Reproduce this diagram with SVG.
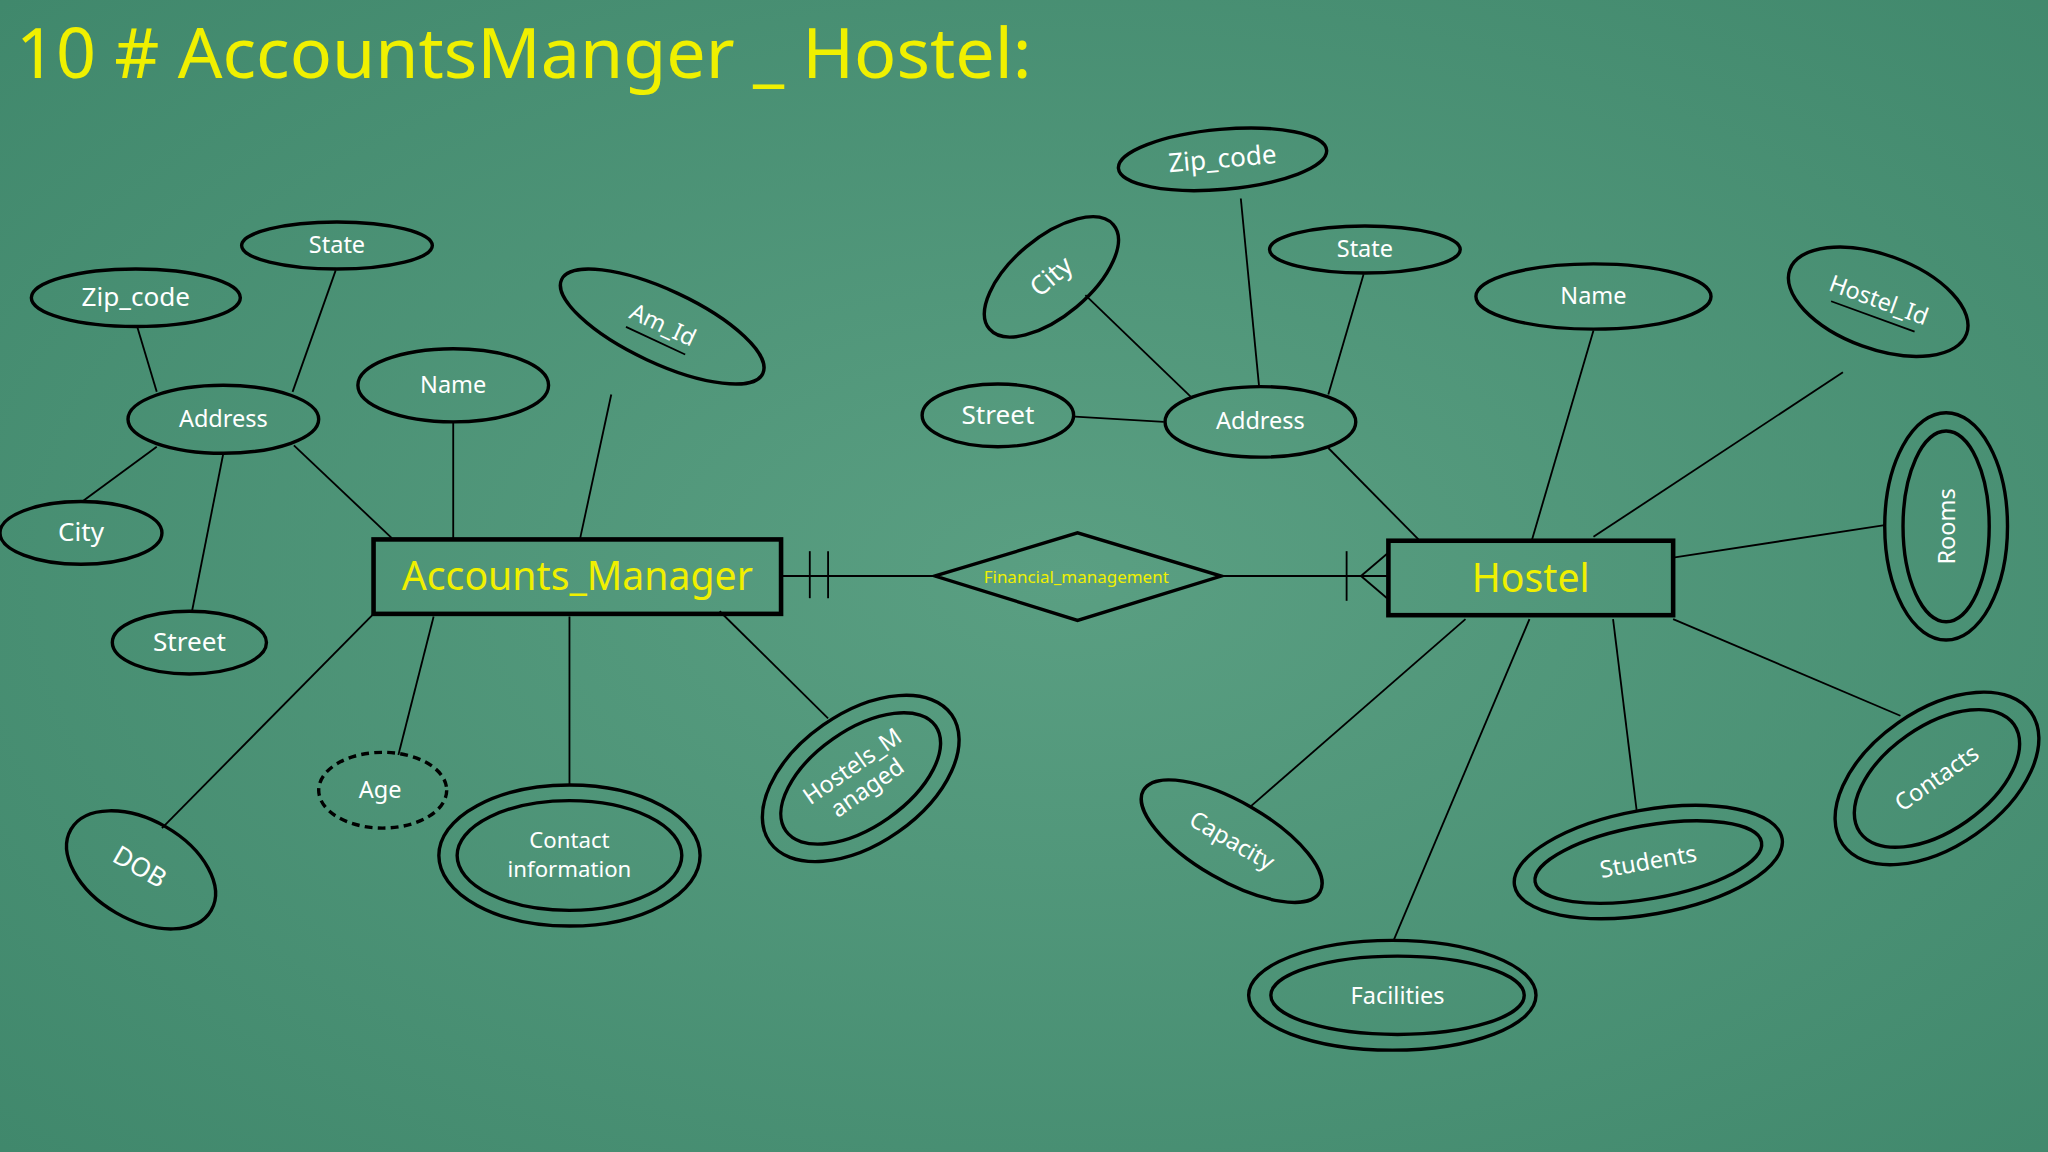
<svg xmlns="http://www.w3.org/2000/svg" width="2048" height="1152" viewBox="0 0 2048 1152">
<defs>
<radialGradient id="bg" cx="0.52" cy="0.5" r="0.75">
<stop offset="0" stop-color="#5a9f82"/>
<stop offset="1" stop-color="#3f876b"/>
</radialGradient>
<style>
.e{fill:none;stroke:#000;stroke-width:2.6}
.l{stroke:#000;stroke-width:1.4;fill:none}
.t{font-family:"Noto Sans","DejaVu Sans",sans-serif;fill:#fff;font-size:18px;text-anchor:middle;dominant-baseline:middle}
.y{fill:#f0f000}
.big{font-size:30px}
.sm{font-size:13px}
.md{font-size:20px}
.r{fill:none;stroke:#000;stroke-width:3.5}
</style>
</defs>
<rect width="2048" height="1152" fill="url(#bg)"/>
<text x="16" y="78" style="font-family:'Noto Sans','DejaVu Sans',sans-serif;font-size:70px;fill:#f0f000">10 # AccountsManger _ Hostel:</text>
<g transform="scale(1.30612)">
<g id="connectors">
<line class="l" x1="105" y1="250" x2="120" y2="300"/>
<line class="l" x1="257" y1="207" x2="224" y2="300"/>
<line class="l" x1="120" y1="342" x2="63" y2="384"/>
<line class="l" x1="171" y1="347" x2="147" y2="468"/>
<line class="l" x1="225" y1="341" x2="300" y2="412"/>
<line class="l" x1="347" y1="323" x2="347" y2="413"/>
<line class="l" x1="468" y1="302" x2="444" y2="413"/>
<line class="l" x1="286" y1="470" x2="124" y2="634"/>
<line class="l" x1="332" y1="472" x2="305" y2="578"/>
<line class="l" x1="436" y1="472" x2="436" y2="601"/>
<line class="l" x1="551" y1="468" x2="634" y2="550"/>
<line class="l" x1="598" y1="441" x2="716" y2="441"/>
<line class="l" x1="935" y1="441" x2="1062" y2="441"/>
<line class="l" x1="620" y1="422" x2="620" y2="458"/>
<line class="l" x1="634" y1="422" x2="634" y2="458"/>
<line class="l" x1="1031" y1="422" x2="1031" y2="460"/>
<line class="l" x1="1042" y1="441" x2="1062" y2="424"/>
<line class="l" x1="1042" y1="441" x2="1062" y2="458"/>
<line class="l" x1="950" y1="152" x2="964" y2="296"/>
<line class="l" x1="1044" y1="210" x2="1017" y2="302"/>
<line class="l" x1="831" y1="226" x2="912" y2="304"/>
<line class="l" x1="823" y1="319" x2="891" y2="323"/>
<line class="l" x1="1017" y1="343" x2="1086" y2="413"/>
<line class="l" x1="1220" y1="253" x2="1173" y2="413"/>
<line class="l" x1="1411" y1="285" x2="1220" y2="411"/>
<line class="l" x1="1281" y1="427" x2="1443" y2="402"/>
<line class="l" x1="1281" y1="474" x2="1455" y2="548"/>
<line class="l" x1="1235" y1="474" x2="1253" y2="620"/>
<line class="l" x1="1171" y1="474" x2="1067" y2="720"/>
<line class="l" x1="1122" y1="474" x2="958" y2="617"/>
</g>
<g id="accounts_manager"><rect class="r" x="286" y="413" width="312" height="57"/><text class="t y big" x="442" y="444">Accounts_Manager</text></g>
<g id="financial_management"><polygon class="e" points="716,441 825,408 935,441 825,475"/><text class="t y sm" x="824" y="443">Financial_management</text></g>
<g id="hostel"><rect class="r" x="1063" y="414" width="218" height="57"/><text class="t y big" x="1172" y="445">Hostel</text></g>
<g id="l_state"><ellipse class="e" cx="258" cy="188" rx="73" ry="18"/><text class="t" x="258" y="189">State</text></g>
<g id="l_zip"><ellipse class="e" cx="104" cy="228" rx="80" ry="22"/><text class="t md" x="104" y="229">Zip_code</text></g>
<g id="l_address"><ellipse class="e" cx="171" cy="321" rx="73" ry="26"/><text class="t" x="171" y="322">Address</text></g>
<g id="l_city"><ellipse class="e" cx="62" cy="408" rx="62" ry="24"/><text class="t md" x="62" y="409">City</text></g>
<g id="l_street"><ellipse class="e" cx="145" cy="492" rx="59" ry="24"/><text class="t md" x="145" y="493">Street</text></g>
<g id="l_name"><ellipse class="e" cx="347" cy="295" rx="73" ry="28"/><text class="t" x="347" y="296">Name</text></g>
<g id="am_id" transform="rotate(25 507 250)"><ellipse class="e" cx="507" cy="250" rx="85" ry="28"/><text class="t" x="507" y="250">Am_Id</text><line class="l" x1="482" y1="262" x2="532" y2="262"/></g>
<g id="dob" transform="rotate(30 108 666)"><ellipse class="e" cx="108" cy="666" rx="62" ry="38"/><text class="t md" x="106" y="666">DOB</text></g>
<g id="age"><ellipse class="e" cx="293" cy="605" rx="49" ry="29" stroke-dasharray="6,4"/><text class="t" x="291" y="606">Age</text></g>
<g id="contact"><ellipse class="e" cx="436" cy="655" rx="100" ry="54"/><ellipse class="e" cx="436" cy="655" rx="86" ry="42"/><text class="t" x="436" y="645" style="font-size:17px">Contact</text><text class="t" x="436" y="667" style="font-size:17px">information</text></g>
<g id="hostels_managed" transform="rotate(-35 659 596)"><ellipse class="e" cx="659" cy="596" rx="85" ry="50"/><ellipse class="e" cx="659" cy="596" rx="70" ry="37"/><text class="t" x="659" y="586">Hostels_M</text><text class="t" x="659" y="606">anaged</text></g>
<g id="r_zip" transform="rotate(-5 936 122)"><ellipse class="e" cx="936" cy="122" rx="80" ry="23"/><text class="t md" x="936" y="123">Zip_code</text></g>
<g id="r_city" transform="rotate(-40 805 212)"><ellipse class="e" cx="805" cy="212" rx="62" ry="30"/><text class="t md" x="805" y="213">City</text></g>
<g id="r_state"><ellipse class="e" cx="1045" cy="191" rx="73" ry="18"/><text class="t" x="1045" y="192">State</text></g>
<g id="r_street"><ellipse class="e" cx="764" cy="318" rx="58" ry="24"/><text class="t md" x="764" y="319">Street</text></g>
<g id="r_address"><ellipse class="e" cx="965" cy="323" rx="73" ry="27"/><text class="t" x="965" y="324">Address</text></g>
<g id="r_name"><ellipse class="e" cx="1220" cy="227" rx="90" ry="25"/><text class="t" x="1220" y="228">Name</text></g>
<g id="hostel_id" transform="rotate(20 1438 231)"><ellipse class="e" cx="1438" cy="231" rx="72" ry="36"/><text class="t" x="1438" y="231">Hostel_Id</text><line class="l" x1="1404" y1="243" x2="1472" y2="243"/></g>
<g id="rooms"><ellipse class="e" cx="1490" cy="403" rx="47" ry="87"/><ellipse class="e" cx="1490" cy="403" rx="33" ry="73"/><text class="t" x="1492" y="403" transform="rotate(-90 1492 403)">Rooms</text></g>
<g id="contacts" transform="rotate(-35 1483 596)"><ellipse class="e" cx="1483" cy="596" rx="88" ry="52"/><ellipse class="e" cx="1483" cy="596" rx="72" ry="40"/><text class="t" x="1483" y="597">Contacts</text></g>
<g id="students" transform="rotate(-10 1262 660)"><ellipse class="e" cx="1262" cy="660" rx="104" ry="40"/><ellipse class="e" cx="1262" cy="660" rx="88" ry="28"/><text class="t" x="1262" y="661">Students</text></g>
<g id="facilities"><ellipse class="e" cx="1066" cy="762" rx="110" ry="42"/><ellipse class="e" cx="1070" cy="762" rx="97" ry="30"/><text class="t" x="1070" y="764">Facilities</text></g>
<g id="capacity" transform="rotate(30 943 644)"><ellipse class="e" cx="943" cy="644" rx="78" ry="30"/><text class="t" x="943" y="645">Capacity</text></g>
</g>
</svg>
